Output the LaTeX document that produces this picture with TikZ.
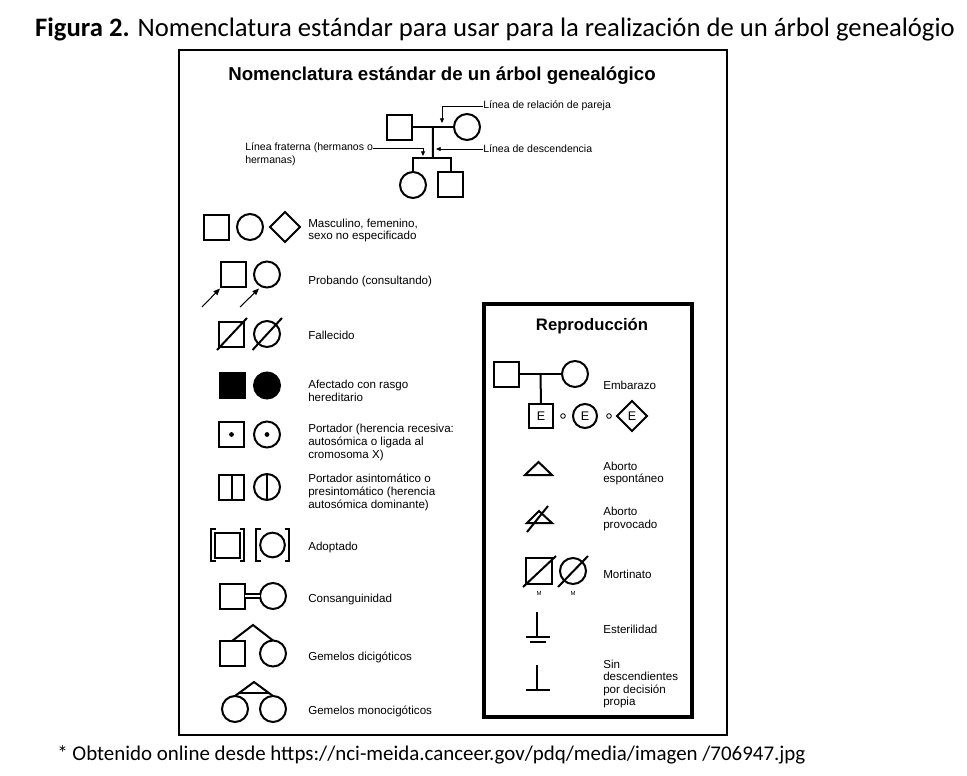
\documentclass[tikz,border=0pt]{standalone}
\usepackage{fontspec}
\setmainfont{Liberation Sans}
\newfontfamily\calib{Carlito}
\usetikzlibrary{shapes.geometric,arrows.meta,calc}
\begin{document}
\begin{tikzpicture}[x=0.75pt,y=-0.75pt,
  sym/.style={draw, line width=1.5pt, inner sep=0pt, outer sep=0pt},
  sq/.style={sym, rectangle, minimum size=18.75pt},
  ci/.style={sym, circle, minimum size=19.5pt},
  dm/.style={sym, diamond, minimum size=22.5pt},
  lbl/.style={anchor=west, align=left, inner sep=0pt, font=\fontsize{8.7}{9.7}\selectfont},
  toplbl/.style={anchor=west, inner sep=0pt, font=\fontsize{7.9}{9.5}\selectfont},
  ln/.style={line width=1.5pt},
  arr/.style={line width=0.6pt, -{Triangle[length=3.5pt,width=3pt]}},
  parr/.style={line width=0.8pt, -{Triangle[length=5pt,width=4pt]}},
  etxt/.style={font=\fontsize{9.4}{10}\selectfont},
]
\path[use as bounding box] (0,0) rectangle (967,775);

% caption and footnote
\node (cap) at (495,29) {\calib\fontsize{20}{24}\selectfont\textbf{Figura 2.} Nomenclatura estándar para usar para la realización de un árbol genealógio};
\node[anchor=west, inner sep=0pt] (foot) at (57,755) {\calib\fontsize{15.7}{18}\selectfont * Obtenido online desde https://nci-meida.canceer.gov/pdq/media/imagen /706947.jpg};

% frame
\draw[line width=0.8pt] (179,50) rectangle (727,735);
\node[font=\bfseries\fontsize{14}{16}\selectfont] (title) at (442,76) {Nomenclatura estándar de un árbol genealógico};

% top example
\node[sq] (f) at (399,127) {};
\node[ci] (m) at (467,127) {};
\draw[ln] (f.east) -- (m.west);
\coordinate (cm) at ($(f.east)!0.5!(m.west)$);
\coordinate (sib) at (433,158);
\draw[ln] (cm) -- (sib);
\node[ci] (c1) at (413,185) {};
\node[sq] (c2) at (450.5,184.5) {};
\draw[ln] (c1.north) -- (c1.north |- sib) -- (c2.north |- sib) -- (c2.north);
\node[toplbl] (lp) at (483,106) {Línea de relación de pareja};
\coordinate (lpt) at (442,123);
\draw[arr] (lp.west) -| (lpt);
\node[toplbl] (ld) at (483,149) {Línea de descendencia};
\coordinate (ldt) at (436,149);
\draw[arr] (ld.west) -- (ldt);
\node[toplbl] (lf1) at (245,148) {Línea fraterna (hermanos o};
\node[toplbl] (lf2) at (245,161) {hermanas)};
\coordinate (lft) at (423,156);
\draw[arr] (lf1.east) -| (lft);

% row 1
\node[sq] (r1a) at (216,227) {};
\node[ci] (r1b) at (250,227) {};
\node[dm] (r1c) at (285,227) {};
\node[lbl] (t1) at (308,230.5) {Masculino, femenino,\\sexo no especificado};

% row 2
\node[sq] (r2a) at (233.5,274.5) {};
\node[ci] (r2b) at (267,274.5) {};
\coordinate (p1) at (202,307);
\coordinate (p2) at (240,307);
\draw[parr] (p1) -- ($(r2a.south west)+(-1,1.5)$);
\draw[parr] (p2) -- ($(r2b.center)+(-8,14)$);
\node[lbl] (t2) at (308,281) {Probando (consultando)};

% row 3
\node[sq] (r3a) at (231,334) {};
\draw[ln] ($(r3a.center)+(-14,16)$) -- ($(r3a.center)+(16,-16)$);
\node[ci] (r3b) at (267,334) {};
\draw[ln] ($(r3b.center)+(-14.5,16)$) -- ($(r3b.center)+(15,-16)$);
\node[lbl] (t3) at (308,335) {Fallecido};

% row 4
\node[sq, fill=black] (r4a) at (232.5,385.5) {};
\node[ci, fill=black] (r4b) at (267,385.5) {};
\node[lbl] (t4) at (308,390.5) {Afectado con rasgo\\hereditario};

% row 5
\node[sq] (r5a) at (231.5,434.5) {};
\fill (r5a.center) circle (1.8pt);
\node[ci] (r5b) at (267,434.5) {};
\fill (r5b.center) circle (1.8pt);
\node[lbl] (t5) at (308,442.5) {Portador (herencia recesiva:\\autosómica o ligada al\\cromosoma X)};

% row 6
\node[sq] (r6a) at (231.5,487) {};
\draw[ln] (r6a.north) -- (r6a.south);
\node[ci] (r6b) at (267,487) {};
\draw[ln] (r6b.north) -- (r6b.south);
\node[lbl] (t6) at (308,492.5) {Portador asintomático o\\presintomático (herencia\\autosómica dominante)};

% row 7
\node[sq] (r7a) at (227.5,545) {};
\draw[ln] (215.5,529) -- (211,529) -- (211,561) -- (215.5,561);
\draw[ln] (239.5,529) -- (244,529) -- (244,561) -- (239.5,561);
\node[ci, minimum size=18.5pt] (r7b) at (272.5,545) {};
\draw[ln] (260.5,529) -- (256,529) -- (256,561) -- (260.5,561);
\draw[ln] (284.5,529) -- (289,529) -- (289,561) -- (284.5,561);
\node[lbl] (t7) at (308,547) {Adoptado};

% row 8
\node[sq] (r8a) at (232,596) {};
\node[ci] (r8b) at (273,596) {};
\draw[double, double distance=2pt, line width=1.1pt] (r8a.east) -- (r8b.west);
\node[lbl] (t8) at (308,599) {Consanguinidad};

% row 9
\node[sq] (r9a) at (232,653.5) {};
\node[ci] (r9b) at (273,653.5) {};
\coordinate (ap9) at (253,625);
\draw[ln] (r9a.north) -- (ap9) -- (r9b.north);
\node[lbl] (t9) at (308,657) {Gemelos dicigóticos};

% row 10
\node[ci] (r10a) at (235,709) {};
\node[ci] (r10b) at (273,709) {};
\coordinate (ap10) at (254,682);
\draw[ln] (r10a.north) -- (ap10) -- (r10b.north);
\draw[ln] ($(ap10)!0.8!(r10a.north)$) -- ($(ap10)!0.8!(r10b.north)$);
\node[lbl] (t10) at (308,711) {Gemelos monocigóticos};

% reproduction box
\draw[line width=2.5pt] (484,304) rectangle (692,717);
\node[font=\bfseries\fontsize{12.5}{14}\selectfont] (rt) at (592,326) {Reproducción};

\node[sq] (ef) at (506.5,374) {};
\node[ci] (em) at (575,374) {};
\draw[ln] (ef.east) -- (em.west);
\coordinate (emid) at ($(ef.east)!0.5!(em.west)$);
\node[sq, minimum size=18pt, etxt] (e1) at (541,416) {E};
\draw[ln] (emid) -- (e1.north);
\node[ci, minimum size=18pt, etxt] (e2) at (585,416) {E};
\node[dm, etxt] (e3) at (632,416) {E};
\node[circle, draw, line width=0.6pt, minimum size=3.5pt, inner sep=0pt] (o1) at (563,416) {};
\node[circle, draw, line width=0.6pt, minimum size=3.5pt, inner sep=0pt] (o2) at (609,416) {};
\node[lbl] (u1) at (603,385) {Embarazo};

\draw[ln, line join=miter] (525,475) -- (538.5,462) -- (552,475) -- cycle;
\node[lbl] (u2) at (603,473.5) {Aborto\\espontáneo};

\draw[ln] (527,523) -- (539,511) -- (552,523) -- cycle;
\draw[ln] (527,532) -- (548,506);
\node[lbl] (u3) at (603,519) {Aborto\\provocado};

\node[sq, minimum size=19.5pt] (ms) at (539,571) {};
\draw[ln] (523,587) -- (556,556);
\node[font=\fontsize{4.5}{5}\selectfont, inner sep=0pt] (m1) at (539,593) {M};
\node[ci] (mc) at (573,571) {};
\draw[ln] (558,587) -- (588,556);
\node[font=\fontsize{4.5}{5}\selectfont, inner sep=0pt] (m2) at (573,593) {M};
\node[lbl] (u4) at (603,574) {Mortinato};

\draw[line width=1.2pt] (537,612) -- (537,637);
\draw[line width=1.2pt] (526,637) -- (550,637);
\draw[line width=1.2pt] (530,642) -- (546,642);
\node[lbl] (u5) at (603,629) {Esterilidad};

\draw[line width=1.2pt] (537,665) -- (537,690);
\draw[line width=1.2pt] (526,690) -- (550,690);
\node[lbl, font=\fontsize{8.7}{9.3}\selectfont] (u6) at (603,684) {Sin\\descendientes\\por decisión\\propia};
\end{tikzpicture}
\end{document}
